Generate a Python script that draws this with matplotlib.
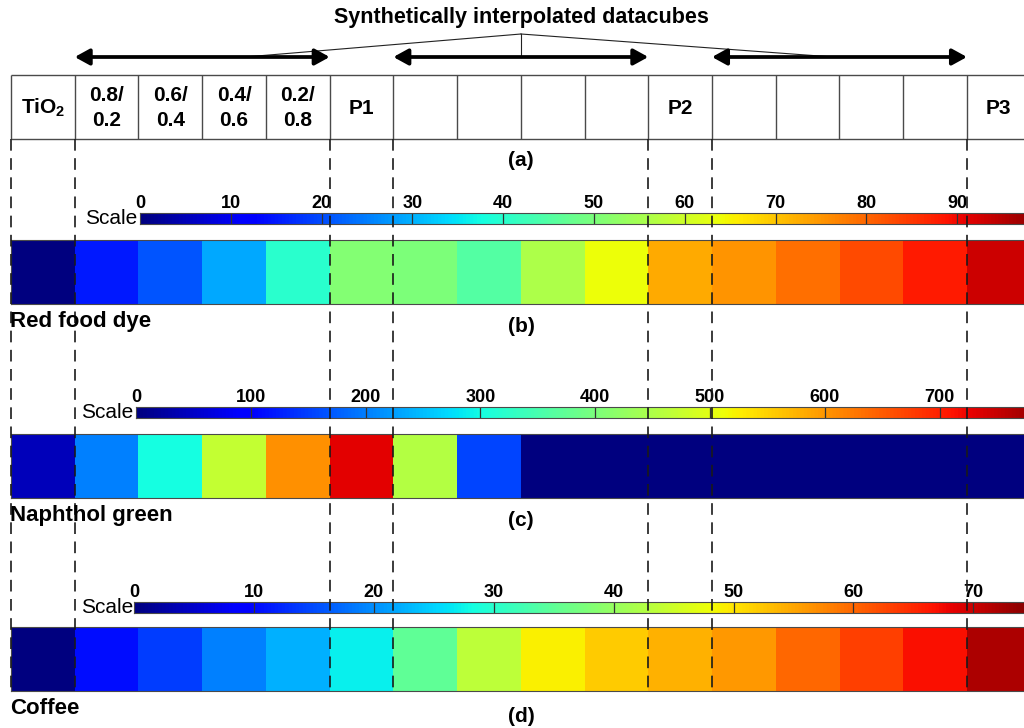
import numpy as np
import matplotlib
matplotlib.use("Agg")
import matplotlib.pyplot as plt

plt.rcParams['font.family'] = ['Liberation Sans', 'DejaVu Sans']
plt.rcParams['mathtext.fontset'] = 'custom'
plt.rcParams['mathtext.rm'] = 'Liberation Sans'
plt.rcParams['mathtext.bf'] = 'Liberation Sans:bold'

# ---------------- data ----------------
table_labels = [r'TiO$_{\mathbf{2}}$', '0.8/\n0.2', '0.6/\n0.4', '0.4/\n0.6', '0.2/\n0.8', 'P1',
                '', '', '', '', 'P2', '', '', '', '', 'P3']
title = 'Synthetically interpolated datacubes'

red_dye_values = [0, 15, 21, 29, 40, 51, 50, 45, 56, 64, 73, 75, 79, 83, 88, 93]
red_dye_max = 100
red_dye_ticks = [0, 10, 20, 30, 40, 50, 60, 70, 80, 90]

naphthol_values = [42, 200, 300, 470, 605, 730, 456, 155, 0, 0, 0, 0, 0, 0, 0, 0]
naphthol_max = 800
naphthol_ticks = [0, 100, 200, 300, 400, 500, 600, 700]

coffee_values = [0, 10.5, 14, 19, 22.5, 27, 35, 43.5, 49, 52, 54, 56, 60, 63, 67, 72]
coffee_max = 75
coffee_ticks = [0, 10, 20, 30, 40, 50, 60, 70]

strip_names = ['Red food dye', 'Naphthol green', 'Coffee']
panel_tags = ['(a)', '(b)', '(c)', '(d)']

# ---------------- layout (pixels) ----------------
W, H = 1024, 728
X0 = 11.0
CW = 63.73
NC = 16
XR = X0 + NC * CW

def fr(x0, y0, x1, y1):
    return [x0 / W, 1 - y1 / H, (x1 - x0) / W, (y1 - y0) / H]

fig = plt.figure(figsize=(W / 100, H / 100), dpi=100)
fig.patch.set_facecolor('white')

EDGE = '#4a4a4a'

strips = [
    dict(vals=red_dye_values, vmax=red_dye_max, ticks=red_dye_ticks,
         cb_x=140, cb_unit=9.08, cb_y=(213, 224), st_y=(240, 304), scale_x=137,
         name_y=322, tag_y=326),
    dict(vals=naphthol_values, vmax=naphthol_max, ticks=naphthol_ticks,
         cb_x=136, cb_unit=1.148, cb_y=(407, 418), st_y=(434, 498), scale_x=133,
         name_y=516, tag_y=521),
    dict(vals=coffee_values, vmax=coffee_max, ticks=coffee_ticks,
         cb_x=134, cb_unit=11.99, cb_y=(602, 613), st_y=(627, 691), scale_x=133,
         name_y=709, tag_y=716),
]

for s in strips:
    # colour strip
    axs = fig.add_axes(fr(X0, s['st_y'][0], XR, s['st_y'][1]))
    axs.imshow(np.array(s['vals'], dtype=float)[None, :], cmap='jet', vmin=0, vmax=s['vmax'],
               aspect='auto', extent=(0, NC, 0, 1), interpolation='nearest')
    axs.set_xticks([]); axs.set_yticks([])
    for sp in axs.spines.values():
        sp.set_color(EDGE); sp.set_linewidth(0.8)
    # colour bar
    xend = s['cb_x'] + s['vmax'] * s['cb_unit']
    axc = fig.add_axes(fr(s['cb_x'], s['cb_y'][0], xend, s['cb_y'][1]))
    grad = np.linspace(0, s['vmax'], 1024)[None, :]
    axc.imshow(grad, cmap='jet', vmin=0, vmax=s['vmax'], aspect='auto',
               extent=(0, s['vmax'], 0, 1))
    axc.set_xlim(0, s['vmax'])
    axc.set_yticks([])
    axc.xaxis.tick_top()
    axc.set_xticks(s['ticks'])
    axc.set_xticklabels([str(t) for t in s['ticks']], fontsize=13, fontweight='bold')
    axc.tick_params(axis='x', length=0, pad=1)
    for t in s['ticks'][1:]:
        axc.axvline(t, color='#333333', lw=0.9)
    for sp in axc.spines.values():
        sp.set_color(EDGE); sp.set_linewidth(0.8)

# overlay for annotations
ax = fig.add_axes([0, 0, 1, 1], zorder=10)
ax.set_xlim(0, W); ax.set_ylim(H, 0)
ax.patch.set_alpha(0)
ax.axis('off')

bounds = [X0 + i * CW for i in range(NC + 1)]

# title
ax.text(521, 18, title, ha='center', va='center', fontsize=15.5, fontweight='bold')

# arrows
ay = 57
for a, b in [(1, 5), (6, 10), (11, 15)]:
    ax.annotate('', xy=(bounds[b], ay), xytext=(bounds[a], ay),
                arrowprops=dict(arrowstyle='<|-|>,head_length=0.4,head_width=0.22',
                                lw=2.7, color='black', mutation_scale=22,
                                shrinkA=0, shrinkB=0))
apex = (521, 34)
for tx in [245, 521, 833]:
    ax.plot([apex[0], tx], [apex[1], ay], color='#222222', lw=0.8)

# table
ty0, ty1 = 75, 139
ax.hlines([ty0, ty1], X0, XR, color=EDGE, lw=1)
ax.vlines(bounds, ty0, ty1, color=EDGE, lw=1)
for i, lab in enumerate(table_labels):
    if lab:
        ax.text(bounds[i] + CW / 2, (ty0 + ty1) / 2 + 1, lab, ha='center', va='center',
                fontsize=15, fontweight='bold', linespacing=1.4)

# dashed guide lines
dash_idx = [0, 1, 5, 6, 10, 11, 15]
ax.vlines([bounds[i] for i in dash_idx], ty1, 691, color='#1a1a1a', lw=1.2,
          linestyles=(0, (7, 4.5)))

# labels
ax.text(521, 160, panel_tags[0], ha='center', va='center', fontsize=15, fontweight='bold')
for s, name, tag in zip(strips, strip_names, panel_tags[1:]):
    ax.text(X0 - 1, s['name_y'], name, ha='left', va='center', fontsize=16, fontweight='bold')
    ax.text(521, s['tag_y'], tag, ha='center', va='center', fontsize=15, fontweight='bold')
    ax.text(s['scale_x'], (s['cb_y'][0] + s['cb_y'][1]) / 2, 'Scale', ha='right',
            va='center', fontsize=15)

fig.savefig('out.png', dpi=100, facecolor='white')
